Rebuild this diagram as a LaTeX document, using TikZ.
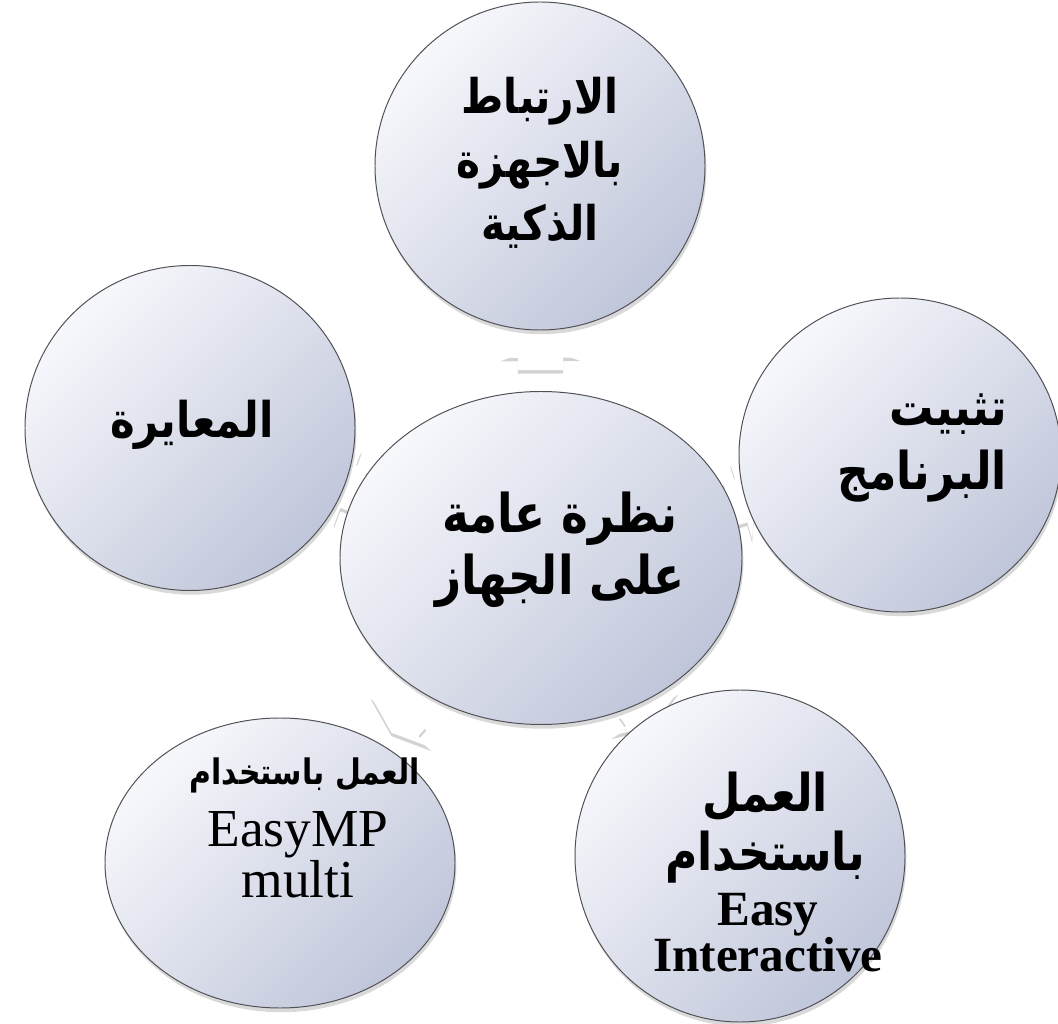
\documentclass[tikz,border=0pt]{standalone}
\usepackage{fontspec}
\newfontfamily\arabicfont[Script=Arabic,FakeStretch=0.85]{DejaVu Sans}
\newfontfamily\latinserif{Liberation Serif}
\TeXXeTstate=1
\usepackage{tikz}
\usetikzlibrary{shapes.geometric}
\usetikzlibrary{shapes.arrows}
\usetikzlibrary{shadows, backgrounds}
\definecolor{ballLight}{RGB}{247,248,252}
\definecolor{ballDark}{RGB}{192,198,218}
\definecolor{ballEdge}{RGB}{80,80,86}
\newcommand{\rtl}[1]{\beginR#1\endR}

\begin{document}
\begin{tikzpicture}[x=0.25mm,y=-0.25mm,
  ball/.style={ellipse,draw=ballEdge,line width=0.7pt,top color=ballLight,bottom color=ballDark,shading angle=45,inner sep=0pt,
    drop shadow={opacity=0.3,shadow xshift=1pt,shadow yshift=-3pt}},
  flow/.style={single arrow,fill=white,draw=none,inner xsep=0pt,inner ysep=5.6mm,single arrow head extend=4.4mm,
    single arrow tip angle=140,minimum height=6.75mm,sloped,allow upside down,
    drop shadow={opacity=0.35,shadow xshift=0pt,shadow yshift=-2.5pt}},
  artext/.style={align=center,text=black}]
\useasboundingbox (0,0) rectangle (1058,1024);

% the six balls
\node[ball,minimum width=100.5mm,minimum height=83.25mm] (hub) at (541,558) {};
\node[ball,minimum width=82.5mm,minimum height=82mm] (top) at (540,166) {};
\node[ball,minimum width=82.5mm,minimum height=81.25mm] (left) at (190,428) {};
\node[ball,minimum width=80.5mm,minimum height=78.5mm] (right) at (900,455) {};
\node[ball,minimum width=87.5mm,minimum height=72.5mm] (botleft) at (280,863) {};
\node[ball,minimum width=82.5mm,minimum height=83mm] (botright) at (740,856) {};

% arrows behind the balls
\begin{scope}[on background layer]
\path (hub) -- (top) node[flow,midway] (a1) {};
\path (hub) -- (left) node[flow,midway] (a2) {};
\path (hub) -- (right) node[flow,midway] (a3) {};
\path (hub) -- (botleft) node[flow,midway] (a4) {};
\path (hub) -- (botright) node[flow,midway] (a5) {};
\end{scope}

% labels
\node[artext,font=\arabicfont\bfseries\fontsize{34}{45}\selectfont] (toptext) at (540,163) {\rtl{الارتباط}\\\rtl{بالاجهزة}\\\rtl{الذكية}};
\node[artext,font=\arabicfont\bfseries\fontsize{35}{45}\selectfont] (lefttext) at (192,425) {\rtl{المعايرة}};
\node[artext,align=right,anchor=east,font=\arabicfont\bfseries\fontsize{37}{45}\selectfont] (righttext) at (1012,448) {\rtl{تثبيت}\\\rtl{البرنامج}};
\node[artext,font=\arabicfont\bfseries\fontsize{38}{44}\selectfont] (hubtext) at (560,550) {\rtl{نظرة عامة}\\\rtl{على الجهاز}};
\node[artext,font=\arabicfont\bfseries\fontsize{25}{30}\selectfont] (blar) at (305,775) {\rtl{العمل باستخدام}};
\node[artext,font=\latinserif\fontsize{38}{36}\selectfont] (bllat) at (298,855) {EasyMP\\multi};
\node[artext,font=\arabicfont\bfseries\fontsize{37}{42}\selectfont] (brar) at (765,828) {\rtl{العمل}\\\rtl{باستخدام}};
\node[artext,font=\latinserif\bfseries\fontsize{35}{31}\selectfont] (brlat) at (768,933) {Easy\\Interactive};

\end{tikzpicture}
\end{document}
